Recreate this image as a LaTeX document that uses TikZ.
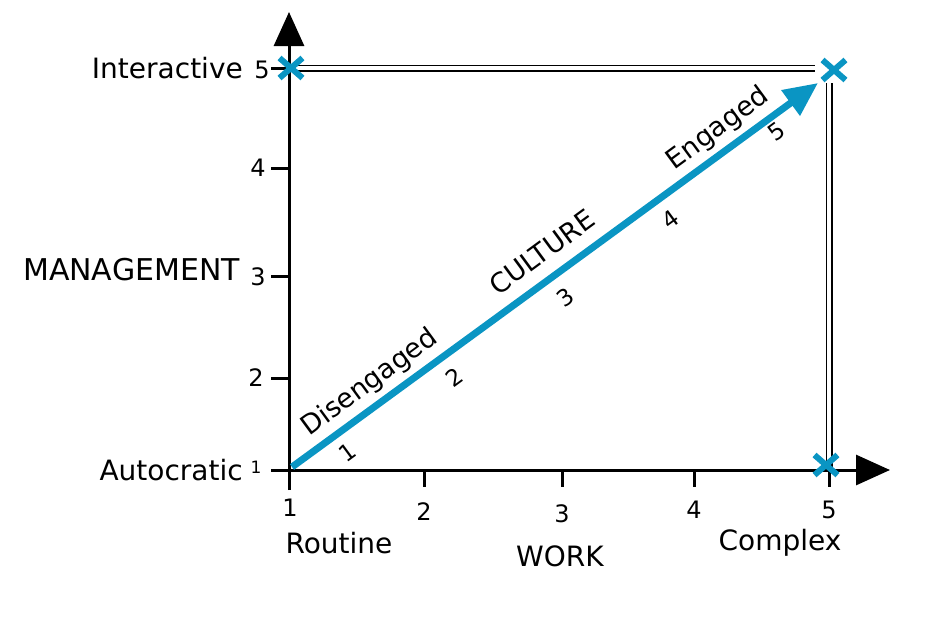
\documentclass[tikz,border=0pt]{standalone}
\usepackage{fontspec}
\setmainfont{DejaVu Sans}
\usetikzlibrary{arrows.meta}
\definecolor{cblue}{HTML}{0A95C3}
\begin{document}
\begin{tikzpicture}[x=1pt,y=-1pt,
  axis/.style={line width=3pt,-{Triangle[length=34pt,width=30pt]}},
  tickln/.style={line width=3pt},
  dbl/.style={double,line width=1.9pt,double distance=3.2pt},
  xmk/.style={cblue,line width=6pt},
  lbl/.style={font=\fontsize{28}{28}\selectfont,inner sep=0pt},
  num/.style={font=\fontsize{24}{24}\selectfont,inner sep=0pt},
  rlbl/.style={font=\fontsize{27}{27}\selectfont,inner sep=0pt,rotate=36.3},
  rnum/.style={font=\fontsize{23}{23}\selectfont,inner sep=0pt,rotate=36.3},
  culture/.style={cblue,line width=7pt,-{Triangle[length=34pt,width=30pt]}}]
\fill[white] (0,0) rectangle (938,619);
\useasboundingbox (0,0) rectangle (938,619);
% axes
\coordinate (ybot) at (289,490);
\coordinate (ytop) at (289,12);
\coordinate (xleft) at (287.5,470);
\coordinate (xright) at (890,470);
\draw[axis] (ybot) -- (ytop);
\draw[axis] (xleft) -- (xright);
% y ticks
\foreach \yy/\nm in {470/y1,378/y2,276/y3,168/y4,68/y5}{
  \coordinate (\nm a) at (271,\yy);
  \coordinate (\nm b) at (289,\yy);
  \draw[tickln] (\nm a) -- (\nm b);
}
% x ticks
\foreach \xx/\nm in {424/x2,562/x3,694/x4,829/x5}{
  \coordinate (\nm a) at (\xx,470);
  \coordinate (\nm b) at (\xx,487);
  \draw[tickln] (\nm a) -- (\nm b);
}
% double frame lines
\coordinate (tl) at (289,68);
\coordinate (tr) at (815,68);
\coordinate (rt) at (829,83);
\coordinate (rb) at (829,470);
\draw[dbl] (tl) -- (tr);
\draw[dbl] (rt) -- (rb);
% culture arrow
\coordinate (A) at (292,467);
\coordinate (B) at (818,83);
\draw[culture] (A) -- (B);
% blue x marks
\coordinate (m1) at (291,68);
\coordinate (m2) at (834,70);
\coordinate (m3) at (826,465);
\foreach \p in {m1,m2,m3}{
  \draw[xmk] ([shift={(-11.5,-10)}]\p) -- ([shift={(11.5,10)}]\p)
             ([shift={(-11.5,10)}]\p) -- ([shift={(11.5,-10)}]\p);
}
% y axis labels
\node[lbl,anchor=east] (inter) at (243,68) {Interactive};
\node[lbl,anchor=east,font=\fontsize{30}{30}\selectfont] (mgmt) at (240,270) {MANAGEMENT};
\node[lbl,anchor=east] (auto) at (243,470) {Autocratic};
\node[num] (n5) at (262,70) {5};
\node[num] (n4) at (258,168) {4};
\node[num] (n3) at (258,277) {3};
\node[num] (n2) at (256,378) {2};
\node[font=\fontsize{17}{17}\selectfont,inner sep=0pt] (n1) at (256,467) {1};
% x axis labels
\node[num] (e1) at (290,508) {1};
\node[num] (e2) at (424,512) {2};
\node[num] (e3) at (562,514) {3};
\node[num] (e4) at (694,510) {4};
\node[num] (e5) at (829,510) {5};
\node[lbl] (rout) at (339,543) {Routine};
\node[lbl] (work) at (560,556) {WORK};
\node[lbl] (cplx) at (780,543) {Complex};
% labels along arrow
\node[rlbl] (dis) at (370,383) {Disengaged};
\node[rlbl] (cult) at (542,252) {CULTURE};
\node[rlbl] (eng) at (718,129) {Engaged};
\node[rnum] (c1) at (347,452) {1};
\node[rnum] (c2) at (454,377) {2};
\node[rnum] (c3) at (565,297) {3};
\node[rnum] (c4) at (670,219) {4};
\node[rnum] (c5) at (777,132) {5};
\end{tikzpicture}
\end{document}
